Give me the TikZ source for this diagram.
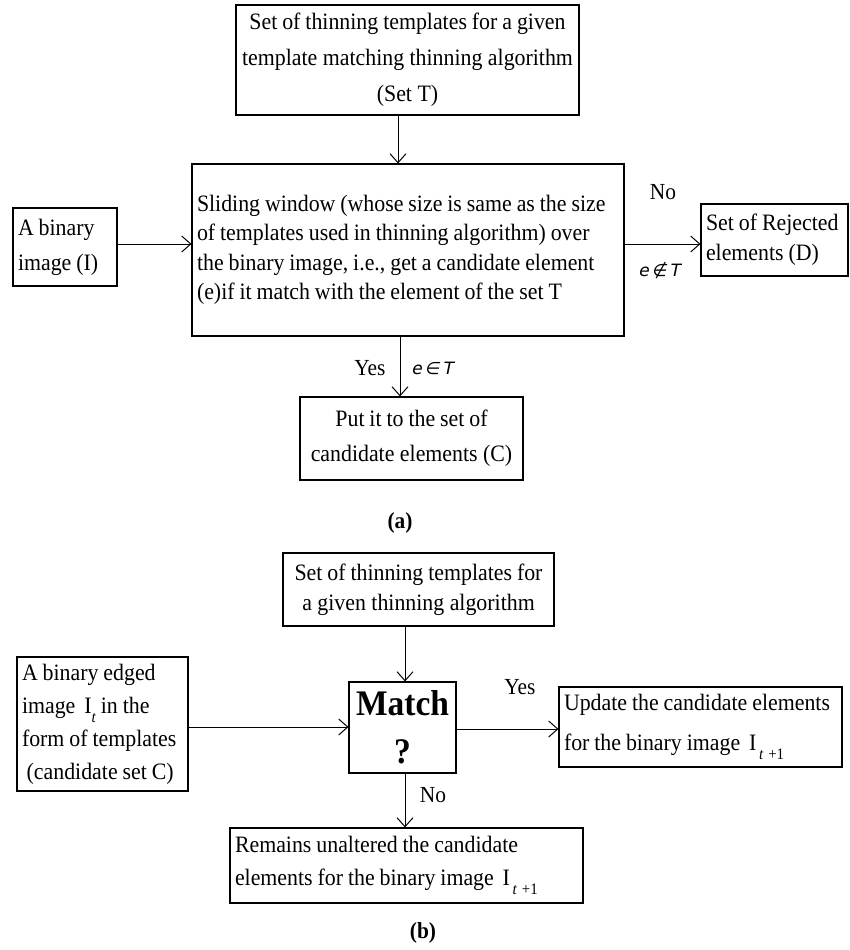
\documentclass[tikz,border=0pt]{standalone}
\usepackage{fontspec}
\setmainfont{Liberation Serif}[FakeStretch=0.93]
\newfontfamily\symfont{DejaVu Sans}[FakeSlant=0.2]
\usetikzlibrary{arrows.meta}
\newcommand{\subt}[1]{\raisebox{-0.4em}{\fontsize{16}{16}\selectfont #1}}
\newcommand{\tightsp}{\spaceskip=0.21em plus 0.02em\relax\xspaceskip=0.3em\relax}
\tikzset{
  box/.style={draw, line width=1.1pt, inner sep=5pt},
  conn/.style={line width=1pt, -{Straight Barb[length=9pt,width=16pt,line width=1pt]}},
  lbl/.style={font=\fontsize{23}{25}\selectfont, inner sep=0pt},
  symlbl/.style={font=\symfont\fontsize{17}{20}\selectfont, inner sep=0pt},
  figcaption/.style={font=\bfseries\fontsize{23}{25}\selectfont, inner sep=0pt}
}
\begin{document}
\begin{tikzpicture}[x=1pt,y=-1pt]
\useasboundingbox (0,0) rectangle (849,950);
% ---------- (a) ----------
\node[box, minimum width=343pt, minimum height=110pt, align=center,
  font=\fontsize{23.5}{36}\selectfont] (T) at (407.5,60)
  {\tightsp Set of thinning templates for a given\\template matching thinning algorithm\\(Set T)};
\node[box, minimum width=432pt, minimum height=172pt, text width=422pt, align=left,
  font=\fontsize{23.5}{29.5}\selectfont] (S) at (408,250)
  {\tightsp Sliding window (whose size is same as the size\\of templates used in thinning algorithm) over\\the binary image, i.e., get a candidate element\\(e)if it match with the element of the set T};
\node[box, minimum width=104pt, minimum height=78pt, text width=94pt, align=left,
  font=\fontsize{23.5}{35}\selectfont] (I) at (65,247)
  {\tightsp A binary\\image (I)};
\node[box, minimum width=147pt, minimum height=72pt, text width=137pt, align=left,
  font=\fontsize{23.5}{30}\selectfont] (D) at (774.5,240)
  {\tightsp Set of Rejected\\elements (D)};
\node[box, minimum width=223pt, minimum height=83pt, align=center,
  font=\fontsize{23.5}{35}\selectfont] (C) at (411.5,438.5)
  {\tightsp Put it to the set of\\candidate elements (C)};
\node[figcaption] (capa) at (400,523) {(a)};
\draw[conn] (T.south -| 398,0) -- (S.north -| 398,0);
\draw[conn] (I.east |- 0,244) -- (S.west |- 0,244);
\draw[conn] (S.east |- 0,244) -- (D.west |- 0,244);
\draw[conn] (S.south -| 400,0) -- (C.north -| 400,0);
\node[lbl] (no1) at (663,192) {No};
\node[symlbl] (ne) at (659,271) {e\,∉\,T};
\node[lbl] (yes1) at (370,368) {Yes};
\node[symlbl] (in) at (432,368) {e\,∈\,T};
% ---------- (b) ----------
\node[box, minimum width=271pt, minimum height=73pt, align=center,
  font=\fontsize{23.5}{30}\selectfont] (B) at (418.5,589.5)
  {\tightsp Set of thinning templates for\\a given thinning algorithm};
\node[box, minimum width=107pt, minimum height=91pt, align=center, inner sep=0pt,
  font=\bfseries\fontsize{36}{48}\selectfont] (M) at (402.5,727.5)
  {Match\\?};
\node[box, minimum width=171pt, minimum height=134pt, text width=161pt, align=left,
  font=\fontsize{23.5}{33}\selectfont] (L) at (102.5,724)
  {\tightsp A binary edged\\image \,I\subt{\textit{t}} in the\\form of templates\\\hspace{0.2em}(candidate set C)};
\node[box, minimum width=283pt, minimum height=80pt, text width=273pt, align=left,
  font=\fontsize{23.5}{40}\selectfont] (U) at (700.5,727)
  {\tightsp Update the candidate elements\\for the binary image \,I\subt{\,\textit{t}\hspace{0.3em}+1}};
\node[box, minimum width=353pt, minimum height=75pt, text width=343pt, align=left,
  font=\fontsize{23.5}{33}\selectfont] (R) at (406.5,865.5)
  {\tightsp Remains unaltered the candidate\\elements for the binary image \,I\subt{\,\textit{t}\hspace{0.3em}+1}};
\node[figcaption] (capb) at (423,933) {(b)};
\draw[conn] (B.south -| 405,0) -- (M.north -| 405,0);
\draw[conn] (L.east |- 0,727) -- (M.west |- 0,727);
\draw[conn] (M.east |- 0,729) -- (U.west |- 0,729);
\draw[conn] (M.south -| 405,0) -- (R.north -| 405,0);
\node[lbl] (yes2) at (520,687) {Yes};
\node[lbl] (no2) at (433,795) {No};
\end{tikzpicture}
\end{document}
